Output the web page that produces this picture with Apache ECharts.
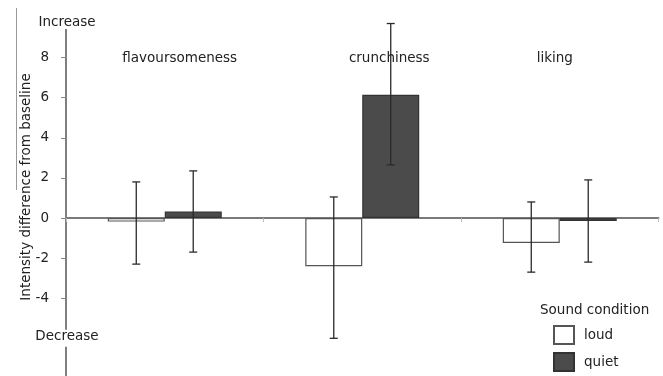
<!DOCTYPE html>
<html>
<head>
<meta charset="utf-8">
<script src="https://cdn.jsdelivr.net/npm/echarts@6/dist/echarts.min.js"></script>
<style>html,body{margin:0;padding:0;background:#fff;overflow:hidden}#c{width:663px;height:400px}</style>
</head>
<body>
<div id="c"></div>
<script>
// ---- data ----
var categories = ['flavoursomeness', 'crunchiness', 'liking'];
var loudValues = [-0.18, -2.4, -1.25];
var quietValues = [0.33, 6.15, -0.15];
var loudErrLow = [-2.3, -6.0, -2.7];
var loudErrHigh = [1.8, 1.05, 0.8];
var quietErrLow = [-1.7, 2.65, -2.2];
var quietErrHigh = [2.35, 9.7, 1.9];
var yTickValues = [8, 6, 4, 2, 0, -2, -4];
var yEndLabels = {'10': 'inc|Increase', '-6': 'dec|Decrease'};
var seriesNames = ['loud', 'quiet'];

var FONT = 'DejaVu Sans';
var GAP = 0.423;

function errData(lo, hi) {
  return categories.map(function (c, i) { return [i, lo[i], hi[i]]; });
}
function errRender(sign) {
  return function (params, api) {
    var idx = api.value(0);
    var lo = api.coord([idx, api.value(1)]);
    var hi = api.coord([idx, api.value(2)]);
    var band = api.size([1, 0])[0];
    var barW = band * (1 - GAP) / 2;
    var x = lo[0] + sign * barW / 2;
    var cap = 4;
    var st = { stroke: '#2a2a2a', lineWidth: 1.3 };
    return {
      type: 'group',
      children: [
        { type: 'line', shape: { x1: x, y1: lo[1], x2: x, y2: hi[1] }, style: st },
        { type: 'line', shape: { x1: x - cap, y1: lo[1], x2: x + cap, y2: lo[1] }, style: st },
        { type: 'line', shape: { x1: x - cap, y1: hi[1], x2: x + cap, y2: hi[1] }, style: st }
      ]
    };
  };
}

var chart = echarts.init(document.getElementById('c'));
chart.setOption({
  animation: false,
  textStyle: { fontFamily: FONT },
  title: {
    text: 'Sound condition', left: 535, top: 298,
    textStyle: { fontFamily: FONT, fontSize: 13.5, fontWeight: 'normal', color: '#222' }
  },
  legend: {
    data: seriesNames, orient: 'vertical', left: 548, top: 320, height: 70,
    itemWidth: 20, itemHeight: 18, itemGap: 7, icon: 'rect',
    textStyle: { fontFamily: FONT, fontSize: 13.5, color: '#222', padding: [0, 0, 0, 5] }
  },
  grid: { left: 66, right: 4.5, top: 9.5, bottom: 21.6, containLabel: false },
  xAxis: [{
    type: 'category', data: categories,
    axisLine: { onZero: true, lineStyle: { color: '#7a7a7a', width: 2 } },
    axisTick: { show: true, length: 4, inside: false, lineStyle: { color: '#bbb' } },
    axisLabel: { show: false },
    splitLine: { show: false }
  }, {
    type: 'category', data: categories, position: 'top',
    axisLine: { show: false }, axisTick: { show: false },
    axisLabel: {
      interval: 0, margin: -49, verticalAlign: 'middle',
      fontFamily: FONT, fontSize: 13.5, color: '#222',
      formatter: function (v, i) { return '{c' + i + '|' + v + '}'; },
      rich: {
        c0: { fontFamily: FONT, fontSize: 13.5, color: '#222', padding: [0, 0, 0, 30] },
        c1: { fontFamily: FONT, fontSize: 13.5, color: '#222', padding: [0, 0, 0, 54] },
        c2: { fontFamily: FONT, fontSize: 13.5, color: '#222', padding: [0, 10, 0, 0] }
      }
    }
  }],
  yAxis: [{
    type: 'value', min: -8, max: 10.4, interval: 2,
    name: 'Intensity difference from baseline', nameLocation: 'middle', nameGap: 33,
    nameMoveOverlap: false,
    nameTextStyle: { fontFamily: FONT, fontSize: 13.5, color: '#222', padding: [0, 0, 0, 14] },
    axisLine: { show: true, lineStyle: { color: '#555', width: 1.5 } },
    axisTick: { show: true, length: 5, lineStyle: { color: '#888' } },
    splitLine: { show: false },
    axisLabel: {
      margin: 17, fontFamily: FONT, fontSize: 13.5, color: '#222',
      formatter: function (v) { return yTickValues.indexOf(v) >= 0 ? String(v) : ''; }
    }
  }, {
    type: 'value', min: -8, max: 10.4, interval: 2, position: 'left', z: 10,
    axisLine: { show: false }, axisTick: { show: false }, splitLine: { show: false },
    axisLabel: {
      margin: -1, align: 'center', fontFamily: FONT, fontSize: 13.5, color: '#222',
      formatter: function (v) { var s = yEndLabels[String(v)]; return s ? '{' + s + '}' : ''; },
      rich: {
        inc: { fontFamily: FONT, fontSize: 13.5, color: '#222', backgroundColor: '#fff', padding: [9, 1, 0, 1] },
        dec: { fontFamily: FONT, fontSize: 13.5, color: '#222', backgroundColor: '#fff', padding: [0, 1, 3, 1] }
      }
    }
  }],
  graphic: [{
    type: 'line', shape: { x1: 16.5, y1: 8, x2: 16.5, y2: 190 },
    style: { stroke: '#999', lineWidth: 1 }
  }],
  series: [{
    name: seriesNames[0], type: 'bar', data: loudValues,
    barGap: '0%', barCategoryGap: (GAP * 100) + '%',
    itemStyle: { color: '#fff', borderColor: '#555', borderWidth: 1.2 }
  }, {
    name: seriesNames[1], type: 'bar', data: quietValues,
    barGap: '0%', barCategoryGap: (GAP * 100) + '%',
    itemStyle: { color: '#4b4b4b', borderColor: '#333', borderWidth: 1.2 }
  }, {
    name: 'loudErr', type: 'custom', data: errData(loudErrLow, loudErrHigh),
    encode: { x: 0, y: [1, 2] }, renderItem: errRender(-1), z: 5
  }, {
    name: 'quietErr', type: 'custom', data: errData(quietErrLow, quietErrHigh),
    encode: { x: 0, y: [1, 2] }, renderItem: errRender(1), z: 5
  }]
});
</script>
</body>
</html>
